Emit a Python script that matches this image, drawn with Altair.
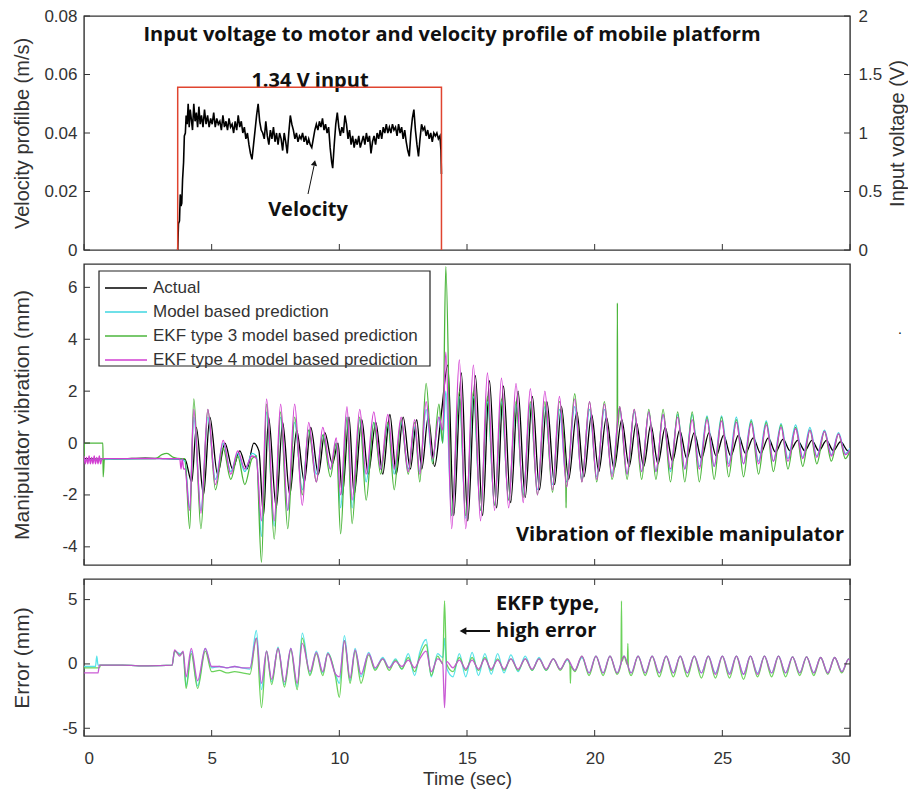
import altair as alt
import pandas as pd

W = 766
H_TOP, H_MID, H_BOT = 234, 301, 157

x_ticks = [0, 5, 10, 15, 20, 25, 30]
vel_ticks = [0, 0.02, 0.04, 0.06, 0.08]
volt_ticks = [0, 0.5, 1, 1.5, 2]
vib_ticks = [-4, -2, 0, 2, 4, 6]
err_ticks = [-5, 0, 5]

series_names = ["Actual", "Model based prediction",
                "EKF type 3 model based prediction", "EKF type 4 model based prediction"]
series_colors = ["#000000", "#3fd6e0", "#4cb63c", "#d23fd2"]
err_colors = ["#46e0e6", "#5ccd4a", "#c44ad0"]

# ---------------- top panel: velocity & input voltage ----------------
vel_t = [3.67, 3.70, 3.74, 3.77, 3.80, 3.83, 3.86, 3.90, 3.93, 3.97,
         4.00, 4.04, 4.08, 4.12, 4.16, 4.20, 4.25, 4.30, 4.35, 4.40,
         4.45, 4.50, 4.55, 4.60, 4.66, 4.72, 4.78, 4.84, 4.90, 4.96,
         5.02, 5.08, 5.14, 5.20, 5.26, 5.32, 5.38, 5.44, 5.50, 5.56,
         5.62, 5.68, 5.74, 5.80, 5.86, 5.92, 5.98, 6.04, 6.10, 6.16,
         6.22, 6.28, 6.34, 6.40, 6.46, 6.52, 6.58, 6.64, 6.70, 6.76,
         6.82, 6.88, 6.94, 7.00, 7.06, 7.12, 7.18, 7.24, 7.30, 7.36,
         7.42, 7.48, 7.54, 7.60, 7.66, 7.72, 7.78, 7.84, 7.90, 7.96,
         8.02, 8.08, 8.14, 8.20, 8.26, 8.32, 8.38, 8.44, 8.50, 8.56,
         8.62, 8.68, 8.74, 8.80, 8.86, 8.92, 8.98, 9.04, 9.10, 9.16,
         9.22, 9.28, 9.34, 9.40, 9.46, 9.52, 9.58, 9.64, 9.70, 9.74,
         9.80, 9.86, 9.92, 9.98, 10.04, 10.10, 10.16, 10.22, 10.28, 10.34,
         10.40, 10.46, 10.52, 10.58, 10.64, 10.70, 10.76, 10.82, 10.88, 10.94,
         11.00, 11.06, 11.12, 11.18, 11.24, 11.30, 11.36, 11.42, 11.48, 11.54,
         11.60, 11.66, 11.72, 11.78, 11.84, 11.90, 11.96, 12.02, 12.08, 12.14,
         12.20, 12.26, 12.32, 12.38, 12.44, 12.50, 12.56, 12.62, 12.68, 12.74,
         12.80, 12.86, 12.92, 12.98, 13.04, 13.10, 13.16, 13.22, 13.28, 13.34,
         13.40, 13.46, 13.52, 13.58, 13.64, 13.70, 13.76, 13.82, 13.88, 13.94,
         13.98, 14.00]
vel_v = [0.000, 0.009, 0.010, 0.019, 0.015, 0.016, 0.024, 0.030, 0.039, 0.040,
         0.046, 0.043, 0.050, 0.042, 0.048, 0.045, 0.041, 0.050, 0.044, 0.047,
         0.042, 0.049, 0.043, 0.046, 0.042, 0.048, 0.043, 0.046, 0.042, 0.045,
         0.043, 0.047, 0.042, 0.045, 0.043, 0.044, 0.041, 0.046, 0.042, 0.044,
         0.041, 0.045, 0.042, 0.043, 0.040, 0.044, 0.041, 0.046, 0.042, 0.044,
         0.040, 0.042, 0.038, 0.040, 0.036, 0.033, 0.031, 0.036, 0.041, 0.046,
         0.050, 0.044, 0.041, 0.040, 0.038, 0.044, 0.039, 0.036, 0.041, 0.038,
         0.042, 0.037, 0.040, 0.036, 0.040, 0.038, 0.034, 0.040, 0.037, 0.033,
         0.040, 0.046, 0.043, 0.041, 0.038, 0.040, 0.037, 0.039, 0.038, 0.040,
         0.037, 0.039, 0.036, 0.038, 0.036, 0.035, 0.038, 0.041, 0.043, 0.041,
         0.044, 0.042, 0.045, 0.041, 0.043, 0.040, 0.042, 0.035, 0.030, 0.028,
         0.036, 0.043, 0.047, 0.042, 0.039, 0.042, 0.040, 0.046, 0.043, 0.038,
         0.041, 0.036, 0.039, 0.035, 0.038, 0.036, 0.039, 0.035, 0.037, 0.039,
         0.036, 0.040, 0.037, 0.039, 0.033, 0.037, 0.039, 0.036, 0.040, 0.038,
         0.041, 0.038, 0.042, 0.040, 0.043, 0.040, 0.042, 0.040, 0.043, 0.041,
         0.042, 0.039, 0.043, 0.040, 0.042, 0.038, 0.041, 0.037, 0.034, 0.032,
         0.040, 0.045, 0.048, 0.041, 0.036, 0.032, 0.038, 0.043, 0.041, 0.042,
         0.039, 0.041, 0.038, 0.040, 0.037, 0.040, 0.039, 0.040, 0.038, 0.039,
         0.034, 0.026]

volt_t = [3.67, 3.67, 14.0, 14.0]
volt_v = [0.0, 1.39, 1.39, 0.0]

# ---------------- middle panel: manipulator vibration ----------------
act_pre_t = [0, 0.8, 1.6, 2.4, 3.2, 3.95]
act_pre_v = [-0.6, -0.62, -0.6, -0.58, -0.6, -0.62]
act_t = [4.22, 4.40, 4.68, 4.93, 5.23, 5.52, 5.82, 6.10, 6.38, 6.65,
         6.85, 7.03, 7.23, 7.53, 7.78, 8.06, 8.33, 8.63, 8.88, 9.18,
         9.43, 9.73, 9.95, 10.12, 10.38, 10.58, 10.88, 11.13, 11.43, 11.70,
         11.98, 12.23, 12.50, 12.78, 13.03, 13.23, 13.48, 13.73, 13.98, 14.25,
         14.48, 14.78, 15.03, 15.33, 15.61, 15.88, 16.16, 16.43, 16.71, 17.00,
         17.28, 17.56, 17.84, 18.13, 18.43, 18.70, 18.98, 19.30, 19.58, 19.88,
         20.16, 20.46, 20.76, 21.06, 21.35, 21.63, 21.92, 22.20, 22.48, 22.76,
         23.05, 23.33, 23.61, 23.90, 24.18, 24.48, 24.76, 25.05, 25.33, 25.63,
         25.91, 26.21, 26.50, 26.80, 27.08, 27.38, 27.65, 27.95, 28.23, 28.51,
         28.78, 29.08, 29.35, 29.63, 29.90, 30.00]
act_v = [-1.5, 0.6, -2.0, 1.0, -1.2, 0.0, -1.0, -0.3, -1.0, 0.0,
         -0.3, -2.8, 1.0, -2.5, 0.8, -2.0, 0.5, -1.5, 0.6, -1.2,
         0.4, -0.8, 0.0, -2.0, 1.0, -2.0, 0.9, -1.2, 0.8, -1.2,
         1.1, -1.2, 1.0, -1.0, 0.9, -1.0, 1.0, -0.9, 1.0, 3.0,
         -2.8, 2.7, -3.0, 2.6, -2.8, 2.4, -2.5, 2.2, -2.3, 2.0,
         -2.1, 1.8, -1.8, 1.6, -1.6, 1.4, -1.4, 1.2, -1.3, 1.1,
         -1.1, 1.0, -1.0, 0.9, -0.9, 0.8, -0.9, 0.7, -0.8, 0.6,
         -0.7, 0.5, -0.6, 0.4, -0.6, 0.4, -0.5, 0.3, -0.5, 0.3,
         -0.4, 0.2, -0.4, 0.2, -0.35, 0.15, -0.3, 0.1, -0.3, 0.1,
         -0.3, 0.1, -0.3, 0.05, -0.3, -0.35]

mod_pre_t = [0, 1.5, 3.0, 3.8]
mod_pre_v = [-0.65, -0.62, -0.6, -0.62]
ekf3_pre_t = [0, 0.02, 0.74, 0.75, 0.8, 2.8, 3.05, 3.25, 3.5, 3.8]
ekf3_pre_v = [-0.6, 0.0, 0.0, -1.3, -0.6, -0.6, -0.45, -0.4, -0.55, -0.6]
ekf4_pre_t = [0, 0.05, 0.1, 0.15, 0.2, 0.25, 0.3, 0.35, 0.4, 0.45,
              0.5, 0.55, 0.6, 0.65, 0.7, 1.5, 2.5, 3.5, 3.75, 3.8, 3.85, 3.9]
ekf4_pre_v = [-0.5, -0.8, -0.55, -0.8, -0.5, -0.8, -0.55, -0.8, -0.5, -0.8,
              -0.55, -0.8, -0.5, -0.8, -0.6, -0.6, -0.6, -0.6, -0.6, -1.0, -0.6, -1.0]

ext_t = [3.95, 4.14, 4.30, 4.58, 4.85, 5.15, 5.45, 5.75, 6.02, 6.30,
         6.58, 6.75, 6.95, 7.15, 7.45, 7.70, 7.98, 8.25, 8.55, 8.80,
         9.10, 9.35, 9.65, 9.88, 10.05, 10.30, 10.50, 10.80, 11.05, 11.35,
         11.62, 11.90, 12.15, 12.42, 12.70, 12.95, 13.15, 13.40, 13.65, 13.90,
         14.05, 14.17, 14.40, 14.70, 14.95, 15.25, 15.53, 15.80, 16.08, 16.35,
         16.63, 16.92, 17.20, 17.48, 17.76, 18.05, 18.35, 18.62, 18.90, 19.22,
         19.50, 19.80, 20.08, 20.38, 20.68, 20.98, 21.27, 21.55, 21.84, 22.12,
         22.40, 22.68, 22.97, 23.25, 23.53, 23.82, 24.10, 24.40, 24.68, 24.97,
         25.25, 25.55, 25.83, 26.13, 26.42, 26.72, 27.00, 27.30, 27.57, 27.87,
         28.15, 28.43, 28.70, 29.00, 29.27, 29.55, 29.82, 30.00]
mod_v = [-0.7, -2.5, 1.0, -2.6, 1.0, -1.4, 0.0, -1.1, -0.4, -1.1,
         -0.4, -0.5, -3.6, 1.2, -3.2, 1.0, -2.6, 0.8, -1.8, 0.5,
         -1.2, 0.3, -1.0, 0.0, -2.5, 1.0, -2.5, 0.9, -1.5, 0.8,
         -1.0, 0.7, -1.2, 0.8, -1.0, 0.6, -1.1, 1.3, -0.7, 1.0,
         0.0, 2.0, -2.8, 1.8, -2.9, 1.8, -2.6, 1.6, -2.4, 1.6,
         -2.2, 1.5, -2.0, 1.5, -1.8, 1.4, -1.6, 1.3, -1.5, 1.4,
         -1.4, 1.3, -1.3, 1.3, -1.2, 1.3, -1.2, 1.2, -1.1, 1.2,
         -1.1, 1.1, -1.1, 1.1, -1.0, 1.1, -0.9, 1.05, -0.9, 1.05,
         -0.8, 1.0, -0.8, 0.9, -0.7, 0.85, -0.7, 0.75, -0.6, 0.7,
         -0.55, 0.6, -0.5, 0.5, -0.45, 0.4, -0.4, -0.2]
ekf3_v = [-0.6, -3.3, 1.7, -3.3, 1.3, -1.8, -0.2, -1.4, -0.5, -1.6,
          -0.6, -0.5, -4.6, 1.5, -3.7, 1.2, -3.3, 1.0, -2.0, 0.5,
          -1.5, 0.3, -1.3, 0.0, -3.5, 1.0, -3.1, 1.0, -2.2, 0.8,
          -1.2, 0.8, -1.8, 0.9, -1.2, 0.8, -1.5, 2.3, -0.8, 1.5,
          0.0, 6.8, -2.8, 2.0, -2.8, 2.0, -2.6, 1.8, -2.4, 1.7,
          -2.2, 1.6, -2.1, 1.6, -2.0, 1.6, -1.9, 1.6, -1.7, 1.9,
          -1.5, 1.6, -1.5, 1.6, -1.4, 1.4, -1.4, 1.3, -1.4, 1.3,
          -1.4, 1.3, -1.5, 1.2, -1.5, 1.2, -1.5, 1.0, -1.4, 1.0,
          -1.3, 0.9, -1.3, 0.85, -1.2, 0.8, -1.1, 0.7, -1.0, 0.6,
          -0.9, 0.5, -0.8, 0.45, -0.7, 0.35, -0.6, -0.3]
ekf4_v = [-1.0, -2.6, 1.3, -2.7, 1.3, -1.6, 0.1, -1.2, -0.3, -1.0,
          -0.5, -0.6, -3.0, 1.7, -3.0, 1.5, -2.6, 1.5, -2.4, 0.8,
          -1.5, 0.6, -1.0, 0.2, -2.0, 1.4, -2.2, 1.3, -1.2, 1.2,
          -1.0, 1.1, -1.0, 1.0, -1.1, 0.9, -1.2, 1.6, -0.6, 1.0,
          0.5, 3.5, -3.3, 3.2, -3.3, 3.0, -3.0, 2.7, -2.6, 2.5,
          -2.5, 2.3, -2.3, 2.1, -2.0, 2.0, -1.8, 1.8, -1.7, 1.7,
          -1.5, 1.6, -1.4, 1.5, -1.3, 1.4, -1.2, 1.3, -1.1, 1.2,
          -1.1, 1.1, -1.0, 1.0, -1.0, 0.9, -1.0, 0.9, -0.9, 0.85,
          -0.9, 0.8, -0.8, 0.75, -0.8, 0.7, -0.7, 0.6, -0.7, 0.55,
          -0.6, 0.5, -0.55, 0.45, -0.5, 0.35, -0.45, -0.25]
ekf3_spike_t = [18.87, 18.88, 18.89, 20.88, 20.89, 20.90]
ekf3_spike_v = [-1.5, -2.5, -1.65, 0.5, 5.4, 0.6]

# ---------------- bottom panel: error ----------------
emod_pre_t = [0, 0.45, 0.5, 0.55, 1.5, 2.5, 3.45]
emod_pre_v = [-0.2, -0.2, 0.6, -0.1, -0.1, -0.15, -0.1]
eekf3_pre_t = [0, 0.6, 0.65, 1.5, 2.5, 3.45]
eekf3_pre_v = [-0.3, -0.3, -0.1, -0.1, -0.15, -0.1]
eekf4_pre_t = [0, 0.55, 0.6, 1.5, 2.5, 3.45]
eekf4_pre_v = [-0.7, -0.7, -0.1, -0.1, -0.15, -0.1]

err_t = [3.55, 3.75, 3.88, 4.00, 4.20, 4.45, 4.75, 5.00, 5.30, 5.60,
         5.90, 6.20, 6.50, 6.75, 6.95, 7.15, 7.35, 7.60, 7.85, 8.10,
         8.35, 8.55, 8.85, 9.10, 9.35, 9.55, 9.85, 10.00, 10.20, 10.42,
         10.62, 10.85, 11.15, 11.40, 11.70, 11.95, 12.20, 12.45, 12.70, 12.95,
         13.15, 13.40, 13.60, 13.85, 14.05, 14.12, 14.20, 14.45, 14.70, 14.95,
         15.20, 15.45, 15.70, 15.95, 16.20, 16.45, 16.72, 17.00, 17.28, 17.55,
         17.82, 18.10, 18.38, 18.65, 18.93, 19.22, 19.50, 19.78, 20.05, 20.33,
         20.60, 20.88, 21.15, 21.43, 21.70, 21.98, 22.25, 22.53, 22.80, 23.08,
         23.35, 23.63, 23.90, 24.18, 24.45, 24.73, 25.00, 25.28, 25.55, 25.83,
         26.10, 26.38, 26.65, 26.93, 27.20, 27.48, 27.75, 28.03, 28.30, 28.58,
         28.85, 29.13, 29.40, 29.68, 29.95, 30.00]
emod_v = [1.0, 0.8, 0.9, -1.7, 1.0, -1.7, 1.2, -0.3, -0.2, -0.3,
          -0.2, -0.3, -0.4, 2.6, -2.0, 1.0, -1.4, 1.3, -1.6, 1.2,
          -1.8, 2.4, -0.8, 1.0, -0.7, 0.9, -0.8, -1.5, 2.2, -1.3,
          1.2, -1.0, 0.9, -0.4, 0.5, -0.3, 0.4, -0.4, 0.8, -0.9,
          0.9, 1.9, -1.0, 0.8, 0.5, 2.0, -0.3, -1.0, 0.8, -1.0,
          0.9, -0.9, 0.8, -0.8, 0.8, -0.7, 0.7, -0.6, 0.6, -0.5,
          0.5, -0.5, 0.4, -0.4, 0.3, -0.5, 0.5, -0.7, 0.6, -0.7,
          0.6, -0.7, 0.6, -0.7, 0.6, -0.7, 0.6, -0.7, 0.6, -0.7,
          0.6, -0.7, 0.6, -0.7, 0.6, -0.7, 0.6, -0.7, 0.6, -0.8,
          0.6, -0.7, 0.6, -0.7, 0.6, -0.7, 0.55, -0.7, 0.55, -0.7,
          0.5, -0.7, 0.5, -0.6, 0.4, 0.2]
eekf3_v = [1.0, 0.7, 0.9, -1.9, 0.8, -1.9, 1.0, -0.6, -0.5, -0.7,
           -0.6, -0.7, -0.8, 2.0, -3.4, 1.0, -1.6, 1.2, -1.8, 1.1,
           -2.0, 2.0, -0.9, 0.8, -0.9, 0.8, -1.0, -2.6, 1.8, -1.5,
           1.0, -1.5, 0.7, -0.5, 0.4, -0.5, 0.3, -0.4, 0.5, -0.6,
           0.6, 1.5, -0.9, 0.6, 0.0, 4.9, 0.0, -0.6, 0.5, -0.5,
           0.5, -0.5, 0.5, -0.5, 0.4, -0.5, 0.4, -0.5, 0.4, -0.5,
           0.4, -0.5, 0.4, -0.5, 0.4, -0.6, 0.6, -0.9, 0.6, -0.9,
           0.6, -0.8, 0.6, -0.9, 0.6, -0.9, 0.6, -1.0, 0.6, -1.0,
           0.6, -1.0, 0.6, -1.1, 0.6, -1.1, 0.6, -1.1, 0.6, -1.2,
           0.6, -1.0, 0.6, -1.0, 0.6, -1.0, 0.55, -0.9, 0.55, -0.9,
           0.5, -0.8, 0.5, -0.7, 0.4, 0.2]
eekf4_v = [1.1, 0.6, 1.0, -1.0, 1.2, -1.3, 1.2, -0.2, -0.2, -0.3,
           -0.2, -0.3, -0.3, 2.0, -1.5, 1.0, -1.2, 1.2, -1.4, 1.2,
           -1.5, 1.6, -0.6, 0.9, -0.6, 0.8, -0.8, -1.0, 1.8, -1.1,
           1.1, -0.8, 0.8, -0.3, 0.4, -0.3, 0.2, -0.2, 0.3, -0.3,
           0.4, 1.0, -0.6, 0.4, 0.0, -3.4, 0.2, -0.3, 0.3, -0.4,
           0.3, -0.4, 0.4, -0.4, 0.3, -0.4, 0.4, -0.4, 0.4, -0.4,
           0.4, -0.4, 0.4, -0.4, 0.4, -0.5, 0.6, -0.7, 0.6, -0.7,
           0.6, -0.7, 0.6, -0.7, 0.6, -0.7, 0.6, -0.7, 0.6, -0.7,
           0.6, -0.7, 0.6, -0.7, 0.6, -0.8, 0.6, -0.8, 0.6, -0.8,
           0.6, -0.8, 0.6, -0.7, 0.6, -0.7, 0.55, -0.7, 0.55, -0.7,
           0.5, -0.7, 0.5, -0.6, 0.4, 0.2]
eekf3_spike_t = [19.03, 19.05, 19.07, 21.03, 21.05, 21.07, 21.28, 21.30, 21.32]
eekf3_spike_v = [-0.05, -1.5, -0.2, 0.0, 4.9, 0.2, -0.05, 1.6, -0.3]


def series_df(ts, vs):
    df = pd.DataFrame({"t": ts, "v": vs}).sort_values("t", kind="stable").reset_index(drop=True)
    df["i"] = range(len(df))
    return df


one = pd.DataFrame({"a": [0]})
xscale = alt.Scale(domain=[0, 30], nice=False, zero=False)
FONT = "Liberation Sans"
BOLD = "Open Sans"
TICK = "#333"
BSIZE = 20


def left_axis(title, values, h, tsize=21):
    return alt.Axis(values=values, labelExpr="'' + datum.value", title=title,
                    titleAngle=270, titleX=-62, titleY=h / 2, titleAlign="center",
                    titleBaseline="middle", labelPadding=7, ticks=False, tickSize=0,
                    domain=False, grid=False, titleFontSize=tsize)


def label(text, x, y, size=BSIZE, weight="bold", font=BOLD, align="center", color="#111"):
    return alt.Chart(one).mark_text(text=text, font=font, fontSize=size, fontWeight=weight,
                                    align=align, baseline="middle", color=color).encode(
        x=alt.value(x), y=alt.value(y))


def xtick_layers(h, xenc_axis, top=False, bottom=True):
    d = pd.DataFrame({"t": x_ticks})
    out = []
    if bottom:
        out.append(alt.Chart(d).mark_rule(color=TICK, strokeWidth=1).encode(
            x=alt.X("t:Q", scale=xscale, axis=xenc_axis), y=alt.value(h), y2=alt.value(h - 6)))
    if top:
        out.append(alt.Chart(d).mark_rule(color=TICK, strokeWidth=1).encode(
            x=alt.X("t:Q", scale=xscale, axis=xenc_axis), y=alt.value(0), y2=alt.value(6)))
    return out


def ytick_layers(values, scale, yaxis, right=False, left=True):
    d = pd.DataFrame({"v": values})
    out = []
    if left:
        out.append(alt.Chart(d).mark_rule(color=TICK, strokeWidth=1).encode(
            y=alt.Y("v:Q", scale=scale, axis=yaxis), x=alt.value(0), x2=alt.value(6)))
    if right:
        out.append(alt.Chart(d).mark_rule(color=TICK, strokeWidth=1).encode(
            y=alt.Y("v:Q", scale=scale, axis=yaxis), x=alt.value(W), x2=alt.value(W - 6)))
    return out


# ---------- top ----------
vel_scale = alt.Scale(domain=[0, 0.08], nice=False, zero=False)
volt_scale = alt.Scale(domain=[0, 2], nice=False, zero=False)
vel_axis = left_axis("Velocity profilbe (m/s)", vel_ticks, H_TOP, tsize=20)
volt_axis = alt.Axis(orient="right", values=volt_ticks, labelExpr="'' + datum.value",
                     title="Input voltage (V)", titleAngle=270, titleX=47, titleY=H_TOP / 2,
                     titleAlign="center", titleBaseline="middle", labelPadding=8,
                     ticks=False, tickSize=0, domain=False, grid=False, titleFontSize=20)

vel_line = alt.Chart(series_df(vel_t, vel_v)).mark_line(color="#000", strokeWidth=1.6).encode(
    x=alt.X("t:Q", scale=xscale, axis=None),
    y=alt.Y("v:Q", scale=vel_scale, axis=vel_axis),
    order="i:Q")
volt_df = pd.DataFrame({"t": volt_t, "v": volt_v, "i": range(len(volt_t))})
volt_line = alt.Chart(volt_df).mark_line(color="#e0442f", strokeWidth=1.5).encode(
    x=alt.X("t:Q", scale=xscale, axis=None),
    y=alt.Y("v:Q", scale=volt_scale, axis=volt_axis),
    order="i:Q")

top_left = alt.layer(
    vel_line, *ytick_layers(vel_ticks, vel_scale, vel_axis), *xtick_layers(H_TOP, None),
    label("Input voltage to motor and velocity profile of mobile platform", 368, 19),
    label("1.34 V input", 226, 65),
    label("Velocity", 224, 194),
    alt.Chart(one).mark_rule(color="#111", strokeWidth=1).encode(
        x=alt.value(224), y=alt.value(178), x2=alt.value(230), y2=alt.value(150)),
    alt.Chart(one).mark_point(shape="triangle-up", filled=True, size=40, angle=12,
                              color="#111", opacity=1).encode(x=alt.value(230.5), y=alt.value(147)),
)
top_right = alt.layer(volt_line, *ytick_layers(volt_ticks, volt_scale, volt_axis, right=True, left=False))
top = alt.layer(top_left, top_right).resolve_scale(y="independent").properties(width=W, height=H_TOP)

# ---------- middle ----------
vib_scale = alt.Scale(domain=[-4.7, 6.9], nice=False, zero=False)
vib_axis = left_axis("Manipulator vibration (mm)", vib_ticks, H_MID)
mid_data = [
    (act_pre_t + act_t, act_pre_v + act_v),
    (mod_pre_t + ext_t, mod_pre_v + mod_v),
    (ekf3_pre_t + ext_t + ekf3_spike_t, ekf3_pre_v + ekf3_v + ekf3_spike_v),
    (ekf4_pre_t + ext_t, ekf4_pre_v + ekf4_v),
]
mid_layers = []
for k, (ts, vs) in enumerate(mid_data):
    mid_layers.append(
        alt.Chart(series_df(ts, vs)).mark_line(color=series_colors[k], strokeWidth=1.3,
                                               interpolate="monotone", clip=True).encode(
            x=alt.X("t:Q", scale=xscale, axis=None),
            y=alt.Y("v:Q", scale=vib_scale, axis=vib_axis),
            order="i:Q"))

legend_layers = [alt.Chart(one).mark_rect(fill="white", stroke="#222", strokeWidth=1.2).encode(
    x=alt.value(15), x2=alt.value(346), y=alt.value(7), y2=alt.value(102))]
for k, name in enumerate(series_names):
    yy = 24 + 24 * k
    legend_layers.append(alt.Chart(one).mark_rule(color=series_colors[k], strokeWidth=1.5).encode(
        x=alt.value(21), x2=alt.value(63), y=alt.value(yy)))
    legend_layers.append(label(name, 69, yy, size=17, weight="normal", font=FONT,
                               align="left", color="#333"))

mid = alt.layer(
    *mid_layers, *ytick_layers(vib_ticks, vib_scale, vib_axis), *xtick_layers(H_MID, None),
    *legend_layers,
    label("Vibration of flexible manipulator", 596, 271),
    label(".", 816, 66, size=14, weight="normal", font=FONT),
).properties(width=W, height=H_MID)

# ---------- bottom ----------
err_scale = alt.Scale(domain=[-5.6, 6.6], nice=False, zero=False)
err_axis = left_axis("Error (mm)", err_ticks, H_BOT)
time_axis = alt.Axis(values=x_ticks, title="Time (sec)", labelExpr="'' + datum.value",
                     ticks=False, tickSize=0, labelPadding=14, domain=False, grid=False,
                     titleY=42, titleBaseline="middle", titleFontSize=19)
bot_data = [
    (emod_pre_t + err_t, emod_pre_v + emod_v),
    (eekf3_pre_t + err_t + eekf3_spike_t, eekf3_pre_v + eekf3_v + eekf3_spike_v),
    (eekf4_pre_t + err_t, eekf4_pre_v + eekf4_v),
]
bot_layers = []
for k, (ts, vs) in enumerate(bot_data):
    bot_layers.append(
        alt.Chart(series_df(ts, vs)).mark_line(color=err_colors[k], strokeWidth=1.3,
                                               interpolate="monotone", clip=True, opacity=0.9).encode(
            x=alt.X("t:Q", scale=xscale, axis=time_axis),
            y=alt.Y("v:Q", scale=err_scale, axis=err_axis),
            order="i:Q"))

bot = alt.layer(
    *bot_layers, *ytick_layers(err_ticks, err_scale, err_axis, right=True),
    *xtick_layers(H_BOT, time_axis, top=True),
    label("EKFP type,", 412, 25, align="left"),
    label("high error", 412, 52, align="left"),
    alt.Chart(one).mark_rule(color="#111", strokeWidth=2).encode(
        x=alt.value(381), x2=alt.value(406), y=alt.value(52)),
    alt.Chart(one).mark_point(shape="triangle-left", filled=True, size=60,
                              color="#111", opacity=1).encode(x=alt.value(379), y=alt.value(52)),
).properties(width=W, height=H_BOT)

chart = alt.vconcat(top, mid, bot, spacing=14, bounds="flush").configure_view(
    stroke="#333", strokeWidth=1.4
).configure_axis(
    labelFont=FONT, labelFontSize=17, labelColor="#333",
    titleFont=FONT, titleFontSize=21, titleColor="#333", titleFontWeight="normal",
).properties(
    padding={"left": 10, "top": 6, "right": 0, "bottom": 2}, background="white"
)

chart.save("out.html", embed_options={"renderer": "svg", "actions": False})
